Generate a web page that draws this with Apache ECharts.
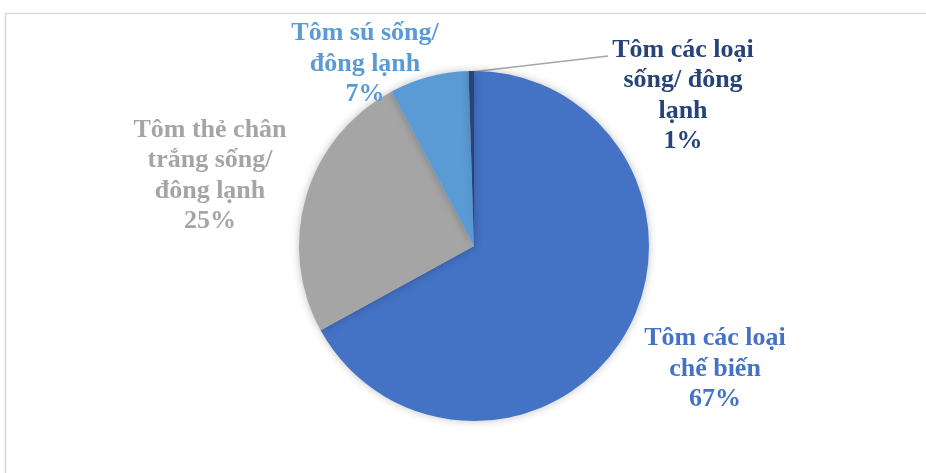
<!DOCTYPE html>
<html>
<head>
<meta charset="utf-8">
<script src="https://cdn.jsdelivr.net/npm/echarts@6/dist/echarts.min.js"></script>
<style>
  html, body { margin: 0; padding: 0; background: #fff; }
  #chart { width: 926px; height: 473px; }
</style>
</head>
<body>
<div id="chart"></div>
<script>
// data
const categories = [
  "Tôm các loại\nchế biến",
  "Tôm thẻ chân\ntrắng sống/\nđông lạnh",
  "Tôm sú sống/\nđông lạnh",
  "Tôm các loại\nsống/ đông\nlạnh",
];
const shares = [67.0, 25.2, 7.3, 0.5];
const percentLabels = ["67%", "25%", "7%", "1%"];

const colors = ["#4472C4", "#A5A5A5", "#5B9BD5", "#264478"];
// label centres (layout only)
const labelPos = [
  [715, 369],
  [210, 176],
  [365, 64],
  [683, 96],
];

const chart = echarts.init(document.getElementById("chart"));

const data = categories.map((name, i) => {
  return {
    name: name,
    value: shares[i],
    itemStyle: { color: colors[i] },
    label: { color: colors[i] },
    labelLine: { show: i === 3 },
  };
});

const option = {
  animation: false,
  graphic: [
    {
      type: "rect",
      shape: { x: 5.5, y: 13.5, width: 1000, height: 1000 },
      style: { fill: "none", stroke: "#d9d9d9", lineWidth: 1.5 },
      silent: true,
    },
  ],
  series: [
    {
      type: "pie",
      center: [474, 246],
      radius: 175,
      startAngle: 90,
      clockwise: true,
      avoidLabelOverlap: false,
      data: data,
      itemStyle: {
        borderWidth: 0,
        shadowBlur: 8,
        shadowColor: "rgba(0,0,0,0.25)",
      },
      label: {
        show: true,
        position: "outside",
        fontFamily: "Liberation Serif",
        fontWeight: "bold",
        fontSize: 26,
        lineHeight: 30.5,
        align: "center",
        formatter: (p) => p.name + "\n" + percentLabels[p.dataIndex],
      },
      labelLine: {
        length: 10,
        length2: 10,
        lineStyle: { color: "#A6A6A6", width: 1.5 },
      },
      labelLayout: (params) => {
        const pos = labelPos[params.dataIndex];
        const out = {
          x: pos[0],
          y: pos[1],
          align: "center",
          verticalAlign: "middle",
        };
        if (params.dataIndex === 3) {
          // straight guide line from the sliver's outer tip to the label's top-left
          const r = params.rect;
          const start = [r.x + r.width / 2, r.y + 1];
          const end = [pos[0] - params.labelRect.width / 2 - 4, pos[1] - 40];
          const mid = [(start[0] + end[0]) / 2, (start[1] + end[1]) / 2];
          out.labelLinePoints = [start, mid, end];
        }
        return out;
      },
      emphasis: { disabled: true },
    },
  ],
};

chart.setOption(option);
</script>
</body>
</html>
